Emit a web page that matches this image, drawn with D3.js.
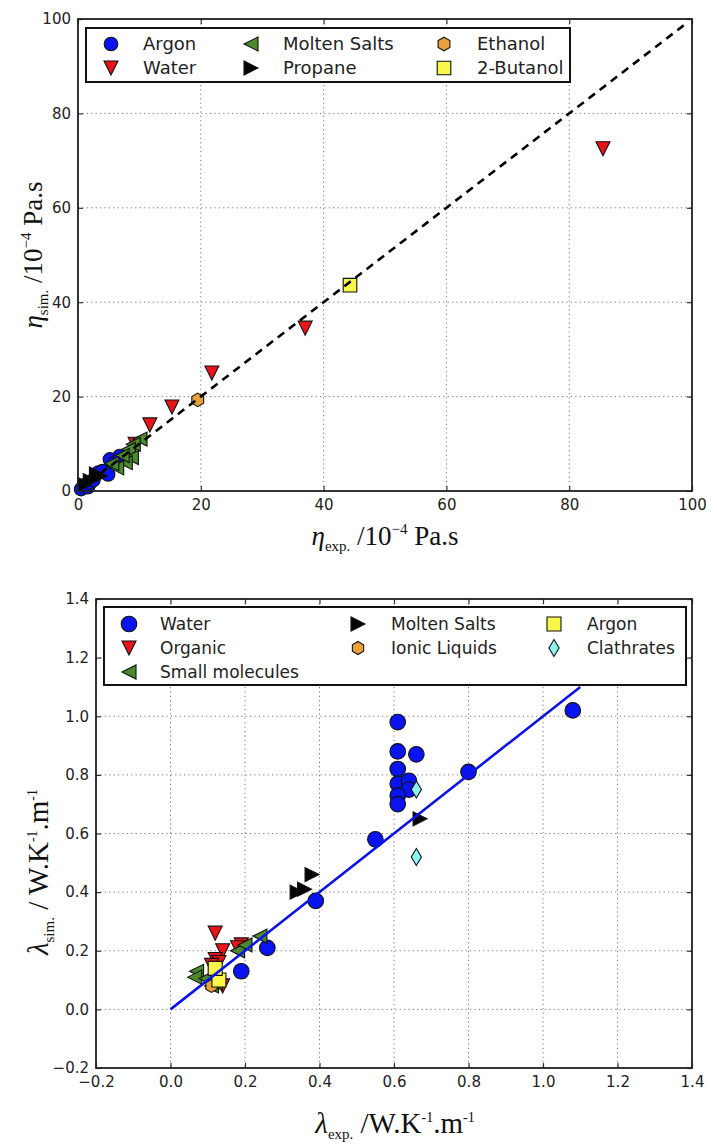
<!DOCTYPE html>
<html>
<head>
<meta charset="utf-8">
<script src="https://cdn.jsdelivr.net/npm/d3@7/dist/d3.min.js"></script>
<style>
  html, body { margin: 0; padding: 0; background: #fff; }
  svg { display: block; }
</style>
</head>
<body>
<div id="chart"></div>
<script>
// ---- viscosity panel (10^-4 Pa.s) ----
const etaTicks = [0, 20, 40, 60, 80, 100];

const argonEtaExp = [0.5, 1.0, 1.6, 2.0, 2.5, 3.3, 4.0, 4.9, 5.2, 6.0, 6.8];
const argonEtaSim = [0.4, 1.2, 0.8, 1.8, 2.3, 3.9, 4.2, 3.5, 6.7, 6.0, 7.4];
const waterEtaExp = [85.5, 37.0, 21.8, 15.3, 11.7, 9.3];
const waterEtaSim = [72.5, 34.5, 25.0, 17.8, 14.0, 9.9];
const moltenEtaExp = [10.1, 9.0, 8.2, 8.7, 7.7, 6.3, 7.2, 5.5];
const moltenEtaSim = [11.0, 9.9, 8.8, 7.1, 6.0, 4.9, 7.5, 5.8];
const propaneEtaExp = [1.1, 2.0, 3.6, 3.0];
const propaneEtaSim = [1.4, 2.2, 3.2, 3.6];
const ethanolEtaExp = [19.5];
const ethanolEtaSim = [19.3];
const butanolEtaExp = [44.3];
const butanolEtaSim = [43.6];

// ---- thermal conductivity panel (W/K/m) ----
const lambdaTicks = [-0.2, 0.0, 0.2, 0.4, 0.6, 0.8, 1.0, 1.2, 1.4];

const waterLamExp = [1.08, 0.61, 0.61, 0.66, 0.61, 0.61, 0.64, 0.64, 0.61, 0.61, 0.80, 0.55, 0.39, 0.26, 0.19];
const waterLamSim = [1.02, 0.98, 0.88, 0.87, 0.82, 0.77, 0.78, 0.75, 0.73, 0.70, 0.81, 0.58, 0.37, 0.21, 0.13];
const organicLamExp = [0.12, 0.14, 0.19, 0.18, 0.12, 0.13, 0.14, 0.11];
const organicLamSim = [0.26, 0.20, 0.22, 0.21, 0.17, 0.16, 0.08, 0.15];
const smallMolLamExp = [0.24, 0.18, 0.07, 0.065, 0.095, 0.11, 0.20, 0.12];
const smallMolLamSim = [0.25, 0.20, 0.13, 0.11, 0.105, 0.08, 0.22, 0.09];
const moltenLamExp = [0.34, 0.36, 0.38, 0.67];
const moltenLamSim = [0.40, 0.41, 0.46, 0.65];
const ionicLamExp = [0.11];
const ionicLamSim = [0.08];
const argonLamExp = [0.13, 0.12];
const argonLamSim = [0.10, 0.14];
const clathrateLamExp = [0.66, 0.66];
const clathrateLamSim = [0.75, 0.52];
const fitLineX = [0.0, 1.1];

const zip = (xs, ys) => xs.map((x, i) => [x, ys[i]]);

const W = 717, H = 1147;
const svg = d3.select('#chart').append('svg')
  .attr('width', W).attr('height', H)
  .attr('viewBox', `0 0 ${W} ${H}`);
svg.append('rect').attr('width', W).attr('height', H).attr('fill', '#fff');

const tickFont = 'DejaVu Sans, sans-serif';
const labelFont = 'Liberation Serif, Times New Roman, serif';

function markerPath(shape, r) {
  const pts = (arr) => 'M' + arr.map(p => p.join(',')).join('L') + 'Z';
  switch (shape) {
    case 'circle': return d3.symbol(d3.symbolCircle, Math.PI * r * r)();
    case 'down': return pts([[0, r], [-r, -r], [r, -r]]);
    case 'left': return pts([[-r, 0], [r, -r], [r, r]]);
    case 'right': return pts([[r, 0], [-r, -r], [-r, r]]);
    case 'square': return pts([[-r, -r], [r, -r], [r, r], [-r, r]]);
    case 'diamond': return pts([[0, -r], [r * 0.6, 0], [0, r], [-r * 0.6, 0]]);
    case 'hexagon': {
      const a = d3.range(6).map(k => {
        const t = (-90 + 60 * k) * Math.PI / 180;
        return [r * Math.cos(t), r * Math.sin(t)];
      });
      return pts(a);
    }
  }
}

function drawPanel(cfg) {
  const x = d3.scaleLinear().domain(cfg.domain).range([cfg.left, cfg.right]);
  const y = d3.scaleLinear().domain(cfg.domain).range([cfg.bottom, cfg.top]);
  const g = svg.append('g');
  const fmt = cfg.fmt;

  // dotted grid
  const grid = g.append('g').attr('stroke', '#777').attr('stroke-width', 1)
    .attr('stroke-dasharray', '1.2,3.2');
  cfg.ticks.forEach(t => {
    grid.append('line').attr('x1', x(t)).attr('x2', x(t)).attr('y1', cfg.top).attr('y2', cfg.bottom);
    grid.append('line').attr('y1', y(t)).attr('y2', y(t)).attr('x1', cfg.left).attr('x2', cfg.right);
  });

  // axes (inward ticks on all four sides)
  const axB = d3.axisBottom(x).tickValues(cfg.ticks).tickSize(-5).tickPadding(8).tickFormat(fmt);
  const axL = d3.axisLeft(y).tickValues(cfg.ticks).tickSize(-5).tickPadding(7).tickFormat(fmt);
  const axT = d3.axisTop(x).tickValues(cfg.ticks).tickSize(-5).tickFormat('');
  const axR = d3.axisRight(y).tickValues(cfg.ticks).tickSize(-5).tickFormat('');
  [[axB, `0,${cfg.bottom}`], [axL, `${cfg.left},0`], [axT, `0,${cfg.top}`], [axR, `${cfg.right},0`]]
    .forEach(([ax, tr]) => {
      const a = g.append('g').attr('transform', `translate(${tr})`).call(ax);
      a.select('.domain').remove();
      a.selectAll('line').attr('stroke', '#333').attr('stroke-width', 1.2);
      a.selectAll('text').attr('font-family', tickFont).attr('font-size', 15).attr('fill', '#222');
    });

  // series
  const plot = g.append('g');
  cfg.series.forEach(s => {
    plot.selectAll(null).data(s.pts).join('path')
      .attr('d', markerPath(s.shape, s.r))
      .attr('transform', d => `translate(${x(d[0])},${y(d[1])})`)
      .attr('fill', s.color).attr('stroke', '#111').attr('stroke-width', 1.1);
  });

  if (cfg.line) cfg.line(g, x, y);

  // frame
  g.append('rect').attr('x', cfg.left).attr('y', cfg.top)
    .attr('width', cfg.right - cfg.left).attr('height', cfg.bottom - cfg.top)
    .attr('fill', 'none').attr('stroke', '#222').attr('stroke-width', 1.8);

  // legend (slots give column / row of each entry)
  const L = cfg.legend;
  const lg = g.append('g');
  lg.append('rect').attr('x', L.x).attr('y', L.y).attr('width', L.w).attr('height', L.h)
    .attr('fill', '#fff').attr('stroke', '#111').attr('stroke-width', 2);
  cfg.series.forEach((s, i) => {
    const [col, row] = L.slots[i];
    const cy = L.rowY[row];
    lg.append('path').attr('d', markerPath(s.shape, s.r))
      .attr('transform', `translate(${L.markX[col]},${cy})`)
      .attr('fill', s.color).attr('stroke', '#111').attr('stroke-width', 1.1);
    lg.append('text').attr('x', L.textX[col]).attr('y', cy).attr('dy', '0.36em')
      .attr('font-family', tickFont).attr('font-size', L.fs).attr('fill', '#222')
      .text(s.name);
  });
  return { x, y };
}

// colours
const cBlue = '#0a14f0', cRed = '#e8141a', cGreen = '#4a8a2c', cBlack = '#050505',
  cOrange = '#e8a038', cYellow = '#f8f84a', cCyan = '#8cf4f0';

drawPanel({
  left: 78, right: 692, top: 19, bottom: 491,
  domain: [0, 100], ticks: etaTicks, fmt: d3.format('d'),
  series: [
    { name: 'Argon', shape: 'circle', r: 6.8, color: cBlue, pts: zip(argonEtaExp, argonEtaSim) },
    { name: 'Water', shape: 'down', r: 7, color: cRed, pts: zip(waterEtaExp, waterEtaSim) },
    { name: 'Molten Salts', shape: 'left', r: 7, color: cGreen, pts: zip(moltenEtaExp, moltenEtaSim) },
    { name: 'Propane', shape: 'right', r: 7, color: cBlack, pts: zip(propaneEtaExp, propaneEtaSim) },
    { name: 'Ethanol', shape: 'hexagon', r: 6.8, color: cOrange, pts: zip(ethanolEtaExp, ethanolEtaSim) },
    { name: '2-Butanol', shape: 'square', r: 6.8, color: cYellow, pts: zip(butanolEtaExp, butanolEtaSim) }
  ],
  line: (g, x, y) => {
    g.append('line').attr('x1', x(0)).attr('y1', y(0)).attr('x2', x(99)).attr('y2', y(99))
      .attr('stroke', '#000').attr('stroke-width', 2.6).attr('stroke-dasharray', '8,6');
  },
  legend: { x: 86, y: 28, w: 484, h: 54, rowY: [44, 68], fs: 18,
    slots: [[0, 0], [0, 1], [1, 0], [1, 1], [2, 0], [2, 1]],
    markX: [111, 251, 444], textX: [143, 283, 477] }
});

const fmtL = v => (Math.abs(v) < 1e-9 ? '0.0' : d3.format('.1f')(v).replace('-', '\u2212'));
drawPanel({
  left: 96, right: 692, top: 599, bottom: 1068,
  domain: [-0.2, 1.4], ticks: lambdaTicks, fmt: fmtL,
  series: [
    { name: 'Water', shape: 'circle', r: 7.8, color: cBlue, pts: zip(waterLamExp, waterLamSim) },
    { name: 'Organic', shape: 'down', r: 7, color: cRed, pts: zip(organicLamExp, organicLamSim) },
    { name: 'Small molecules', shape: 'left', r: 7, color: cGreen, pts: zip(smallMolLamExp, smallMolLamSim) },
    { name: 'Molten Salts', shape: 'right', r: 7, color: cBlack, pts: zip(moltenLamExp, moltenLamSim) },
    { name: 'Ionic Liquids', shape: 'hexagon', r: 6.5, color: cOrange, pts: zip(ionicLamExp, ionicLamSim) },
    { name: 'Argon', shape: 'square', r: 7, color: cYellow, pts: zip(argonLamExp, argonLamSim) },
    { name: 'Clathrates', shape: 'diamond', r: 8.5, color: cCyan, pts: zip(clathrateLamExp, clathrateLamSim) }
  ],
  line: (g, x, y) => {
    g.append('line').attr('x1', x(fitLineX[0])).attr('y1', y(fitLineX[0]))
      .attr('x2', x(fitLineX[1])).attr('y2', y(fitLineX[1]))
      .attr('stroke', '#0a14e6').attr('stroke-width', 2.6);
  },
  legend: { x: 104, y: 607, w: 582, h: 78, rowY: [624, 648, 672], fs: 17,
    slots: [[0, 0], [0, 1], [0, 2], [1, 0], [1, 1], [2, 0], [2, 1]],
    markX: [129, 358, 554], textX: [160, 391, 587] }
});

// axis titles with sub/superscripts
function title(x, y, rot, fs, parts) {
  const t = svg.append('text')
    .attr('transform', `translate(${x},${y}) rotate(${rot})`)
    .attr('text-anchor', 'middle').attr('font-family', labelFont)
    .attr('font-size', fs).attr('fill', '#111');
  parts.forEach(p => {
    const s = t.append('tspan').text(p.t);
    if (p.it) s.attr('font-style', 'italic');
    if (p.fs) s.attr('font-size', p.fs);
    if (p.dy) s.attr('dy', p.dy);
  });
}
title(385, 545, 0, 27, [
  { t: 'η', it: true }, { t: 'exp.', fs: 15, dy: 6 }, { t: ' /10', dy: -6 },
  { t: '−4', fs: 15, dy: -11 }, { t: ' Pa.s', dy: 11 }
]);
title(42, 255, -90, 27, [
  { t: 'η', it: true }, { t: 'sim.', fs: 15, dy: 6 }, { t: ' /10', dy: -6 },
  { t: '−4', fs: 15, dy: -11 }, { t: ' Pa.s', dy: 11 }
]);
title(395, 1133, 0, 29, [
  { t: 'λ', it: true }, { t: 'exp.', fs: 15, dy: 6 }, { t: ' /W.K', dy: -6 },
  { t: '-1', fs: 14, dy: -11 }, { t: '.m', dy: 11 }, { t: '-1', fs: 14, dy: -11 }
]);
title(48, 872, -90, 29, [
  { t: 'λ', it: true }, { t: 'sim.', fs: 15, dy: 6 }, { t: ' / W.K', dy: -6 },
  { t: '-1', fs: 14, dy: -11 }, { t: '.m', dy: 11 }, { t: '-1', fs: 14, dy: -11 }
]);
</script>
</body>
</html>
